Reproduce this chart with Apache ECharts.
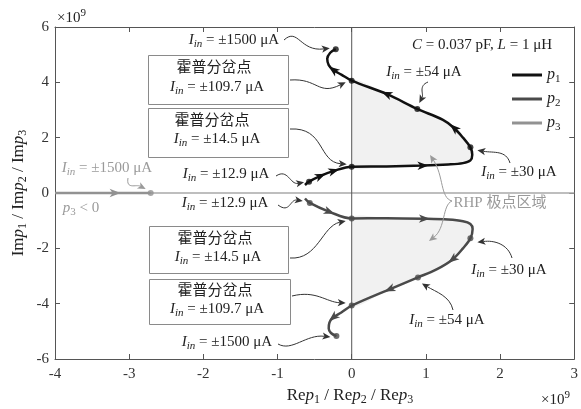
<!DOCTYPE html>
<html>
<head>
<meta charset="utf-8">
<script src="https://cdn.jsdelivr.net/npm/echarts@6/dist/echarts.min.js"></script>
<style>
  html, body { margin: 0; padding: 0; background: #fff; }
  #chart { width: 581px; height: 409px; }
</style>
</head>
<body>
<div id="chart"></div>
<script>
// Pole loci p1, p2, p3 (real / imaginary parts, units of 1e9)
const p1Re = [-0.63, -0.575, -0.42, -0.24, 0, 0.47, 0.96, 1.3, 1.5, 1.6, 1.625, 1.6, 1.5, 1.38, 1.23, 0.884, 0.47, 0, -0.14, -0.25, -0.31, -0.33, -0.29, -0.215];
const p1Im = [0.29, 0.41, 0.62, 0.80, 0.95, 0.96, 0.99, 1.03, 1.08, 1.18, 1.38, 1.65, 2.0, 2.35, 2.64, 3.04, 3.58, 4.06, 4.28, 4.45, 4.62, 4.85, 5.07, 5.2];
const p2Re = [-0.63, -0.565, -0.30, 0, 0.47, 0.98, 1.3, 1.5, 1.6, 1.63, 1.60, 1.50, 1.36, 1.15, 0.893, 0.51, 0, -0.14, -0.25, -0.30, -0.31, -0.28, -0.206];
const p2Im = [-0.20, -0.36, -0.68, -0.92, -0.91, -0.93, -0.96, -1.02, -1.12, -1.3, -1.64, -2.0, -2.40, -2.75, -3.05, -3.48, -4.07, -4.32, -4.5, -4.68, -4.9, -5.06, -5.17];
const p3Re = [-4.0, -3.19, -2.71];
const p3Im = [0, 0, 0];

// Marked points (indices into the loci): Iin = 12.9, Hopf, 30, 54, Hopf, 1500 uA
const p1Dots = [1, 4, 11, 15, 17, 23];
const p2Dots = [1, 3, 10, 14, 16, 22];
const p3Dots = [2];
// Direction arrows along each locus
const p1Arrows = [2, 3, 6, 13, 16, 19];
const p2Arrows = [2, 5, 12, 15, 18];
const p3Arrows = [1];
// Segment between the two Hopf points bounding the RHP region
const p1Rhp = [4, 17];
const p2Rhp = [3, 16];

const xTicks = [-4, -3, -2, -1, 0, 1, 2, 3];
const yTicks = [-6, -4, -2, 0, 2, 4, 6];

const FONT = "'Liberation Serif', 'Noto Sans CJK SC', serif";
const INK = '#222';
const GREY = '#9a9a9a';
const C1 = '#111111', C2 = '#4a4a4a', C3 = '#929292';

const pairs = (re, im) => re.map((x, i) => [x, im[i]]);
const pick = (re, im, idx) => idx.map(i => [re[i], im[i]]);
const arrowItems = (re, im, idx) => idx.map(i => [re[i], im[i], re[i - 1], im[i - 1], re[i + 1], im[i + 1]]);

function richSet(color, size) {
  size = size || 15;
  const sub = Math.round(size * 0.7);
  return {
    i: { fontFamily: FONT, fontSize: size, fontStyle: 'italic', lineHeight: 20, color: color, fill: color },
    s: { fontFamily: FONT, fontSize: sub, fontStyle: 'italic', verticalAlign: 'bottom', lineHeight: 4, color: color, fill: color },
    d: { fontFamily: FONT, fontSize: sub, verticalAlign: 'bottom', lineHeight: 4, color: color, fill: color },
    t: { fontFamily: FONT, fontSize: size, lineHeight: 20, color: color, fill: color },
    sup: { fontFamily: FONT, fontSize: sub, verticalAlign: 'top', lineHeight: 5, color: color, fill: color }
  };
}
const iin = v => '{i|I}{s|in}{t| = ±' + v + ' μA}';

// Arrowhead drawn along a locus, oriented by neighbouring samples
function arrowRenderer(color) {
  return function (params, api) {
    const p = api.coord([api.value(0), api.value(1)]);
    const a = api.coord([api.value(2), api.value(3)]);
    const b = api.coord([api.value(4), api.value(5)]);
    let dx = b[0] - a[0], dy = b[1] - a[1];
    const L = Math.hypot(dx, dy) || 1;
    dx /= L; dy /= L;
    const nx = -dy, ny = dx;
    const len = 5.5, hw = 4.2, notch = 3;
    return {
      type: 'polygon',
      shape: { points: [
        [p[0] + dx * len, p[1] + dy * len],
        [p[0] - dx * len + nx * hw, p[1] - dy * len + ny * hw],
        [p[0] - dx * (len - notch), p[1] - dy * (len - notch)],
        [p[0] - dx * len - nx * hw, p[1] - dy * len - ny * hw]
      ] },
      style: { fill: color }
    };
  };
}

// Shaded right-half-plane region enclosed by each locus and the imaginary axis
function rhpRenderer(params, api) {
  const axisX = api.coord([0, 0])[0];
  const build = (re, im, span) => {
    const pts = [];
    for (let i = span[0]; i <= span[1]; i++) pts.push(api.coord([re[i], im[i]]));
    return {
      type: 'polygon',
      shape: { points: pts, smooth: 0.25, smoothConstraint: [[axisX, -10000], [10000, 10000]] },
      style: { fill: '#f1f1f1' }
    };
  };
  return { type: 'group', children: [build(p1Re, p1Im, p1Rhp), build(p2Re, p2Im, p2Rhp)] };
}

const axisLabel = { fontFamily: FONT, fontSize: 15, color: '#333' };
const frameLine = { show: true, onZero: false, lineStyle: { color: '#555', width: 1 } };
const innerTick = { show: true, inside: true, length: 5, lineStyle: { color: '#555' } };

const chart = echarts.init(document.getElementById('chart'), null, { renderer: 'canvas' });

chart.setOption({
  animation: false,
  grid: { left: 55, right: 6, top: 27, bottom: 50, containLabel: false },
  xAxis: [
    { type: 'value', min: xTicks[0], max: xTicks[xTicks.length - 1], interval: 1, position: 'bottom',
      axisLine: frameLine, axisTick: innerTick, splitLine: { show: false },
      axisLabel: Object.assign({ margin: 8 }, axisLabel) },
    { type: 'value', min: xTicks[0], max: xTicks[xTicks.length - 1], interval: 1, position: 'top',
      axisLine: frameLine, axisTick: innerTick, splitLine: { show: false }, axisLabel: { show: false } }
  ],
  yAxis: [
    { type: 'value', min: yTicks[0], max: yTicks[yTicks.length - 1], interval: 2, position: 'left',
      axisLine: frameLine, axisTick: innerTick, splitLine: { show: false },
      axisLabel: Object.assign({ margin: 6 }, axisLabel) },
    { type: 'value', min: yTicks[0], max: yTicks[yTicks.length - 1], interval: 2, position: 'right',
      axisLine: frameLine, axisTick: innerTick, splitLine: { show: false }, axisLabel: { show: false } }
  ],
  legend: {
    data: ['p1', 'p2', 'p3'],
    orient: 'vertical', left: 507, top: 62, itemGap: 6,
    icon: 'rect', itemWidth: 30, itemHeight: 3,
    formatter: name => '{i|p}{d|' + name.slice(1) + '}',
    textStyle: { rich: richSet(INK, 16), padding: [0, 0, 0, 0] },
    selectedMode: false
  },
  series: [
    { type: 'custom', name: 'rhp', renderItem: rhpRenderer, data: [[0, 0]], silent: true, z: 1, clip: true },
    { type: 'line', name: 'axis-re', data: [[xTicks[0], 0], [xTicks[xTicks.length - 1], 0]], symbol: 'none',
      lineStyle: { color: '#a8a8a8', width: 1.5 }, silent: true, z: 2 },
    { type: 'line', name: 'axis-im', data: [[0, yTicks[0]], [0, yTicks[yTicks.length - 1]]], symbol: 'none',
      lineStyle: { color: '#555', width: 1 }, silent: true, z: 2 },
    { type: 'line', name: 'p3', color: C3, data: pairs(p3Re, p3Im), symbol: 'none',
      lineStyle: { color: C3, width: 2.5 }, z: 3 },
    { type: 'line', name: 'p2', color: C2, data: pairs(p2Re, p2Im), symbol: 'none', smooth: 0.35,
      lineStyle: { color: C2, width: 2.5 }, z: 4 },
    { type: 'line', name: 'p1', color: C1, data: pairs(p1Re, p1Im), symbol: 'none', smooth: 0.35,
      lineStyle: { color: C1, width: 2.5 }, z: 5 },
    { type: 'custom', name: 'p3-dir', renderItem: arrowRenderer(C3), data: arrowItems(p3Re, p3Im, p3Arrows), encode: { x: 0, y: 1 }, z: 6 },
    { type: 'custom', name: 'p2-dir', renderItem: arrowRenderer(C2), data: arrowItems(p2Re, p2Im, p2Arrows), encode: { x: 0, y: 1 }, z: 6 },
    { type: 'custom', name: 'p1-dir', renderItem: arrowRenderer(C1), data: arrowItems(p1Re, p1Im, p1Arrows), encode: { x: 0, y: 1 }, z: 6 },
    { type: 'scatter', name: 'p3-pts', data: pick(p3Re, p3Im, p3Dots), symbolSize: 6, itemStyle: { color: C3 }, z: 7 },
    { type: 'scatter', name: 'p2-pts', data: pick(p2Re, p2Im, p2Dots), symbolSize: 6, itemStyle: { color: C2 }, z: 7 },
    { type: 'scatter', name: 'p1-pts', data: pick(p1Re, p1Im, p1Dots), symbolSize: 6, itemStyle: { color: C1 }, z: 7 }
  ]
});

// ---- annotations -------------------------------------------------------
const loci = { p1: [p1Re, p1Im], p2: [p2Re, p2Im], p3: [p3Re, p3Im] };
const toPx = (x, y) => chart.convertToPixel({ gridIndex: 0 }, [x, y]);

// Leader curves: start, two control points, and the end offset from the marked point
const leaders = [
  { to: ['p1', 23], gap: [-6, -1], from: [284, 40], c1: [298, 27], c2: [300, 52] },
  { to: ['p1', 17], gap: [-6, 1.5], from: [290, 80], c1: [318, 78], c2: [318, 96] },
  { to: ['p1', 4], gap: [-5, -2.5], from: [290, 129], c1: [325, 127], c2: [318, 162] },
  { to: ['p1', 1], gap: [-5, 0.5], from: [276, 176], c1: [288, 168], c2: [290, 185] },
  { to: ['p1', 15], gap: [2, -6], from: [428, 82], c1: [418, 86], c2: [424, 94] },
  { to: ['p1', 11], gap: [7, 3], from: [510, 163], c1: [506, 150], c2: [494, 153] },
  { to: ['p3', 2], gap: [-5, -4], from: [128, 178], c1: [126, 190], c2: [136, 184], grey: true },
  { to: ['p2', 1], gap: [-7, -2], from: [278, 205], c1: [290, 214], c2: [290, 199] },
  { to: ['p2', 3], gap: [-6, 2.5], from: [290, 258], c1: [318, 260], c2: [322, 226] },
  { to: ['p2', 16], gap: [-6, -2.5], from: [292, 296], c1: [316, 290], c2: [326, 302] },
  { to: ['p2', 22], gap: [-6, 1], from: [278, 344], c1: [292, 352], c2: [306, 334] },
  { to: ['p2', 10], gap: [7, 4], from: [512, 258], c1: [508, 244], c2: [494, 240] },
  { to: ['p2', 14], gap: [4, 6], from: [453, 310], c1: [450, 296], c2: [436, 292] }
];
// Pointers from the "RHP" note into the shaded regions
const rhpPointers = [
  { from: [452, 201], c1: [440, 198], c2: [444, 176], end: [430, 155] },
  { from: [452, 201], c1: [442, 205], c2: [446, 228], end: [429, 241] }
];

const labels = [
  { text: iin('1500'), at: [234, 40] },
  { text: iin('12.9'), at: [226, 174] },
  { text: iin('54'), at: [424, 72] },
  { text: iin('30'), at: [519, 172] },
  { text: '{i|C}{t| = 0.037 pF, }{i|L}{t| = 1 μH}', at: [482, 45] },
  { text: iin('1500'), at: [107, 168], grey: true },
  { text: '{i|p}{d|3}{t| < 0}', at: [81, 208], grey: true },
  { text: iin('12.9'), at: [225, 203] },
  { text: iin('1500'), at: [227, 342] },
  { text: iin('30'), at: [509, 270] },
  { text: iin('54'), at: [447, 320] },
  { text: '{t|RHP 极点区域}', at: [500, 203], grey: true }
];

const boxes = [
  { rect: [148, 55, 140, 49], texts: ['{t|霍普分岔点}', iin('109.7')], at: [[214, 68], [217, 87]] },
  { rect: [148, 108, 140, 49], texts: ['{t|霍普分岔点}', iin('14.5')], at: [[212, 121], [217, 139]] },
  { rect: [149, 226, 139, 47], texts: ['{t|霍普分岔点}', iin('14.5')], at: [[215, 239], [218, 257]] },
  { rect: [149, 279, 141, 45], texts: ['{t|霍普分岔点}', iin('109.7')], at: [[215, 291], [217, 309]] }
];

function curveWithHead(from, c1, c2, end, color) {
  let dx = end[0] - c2[0], dy = end[1] - c2[1];
  const L = Math.hypot(dx, dy) || 1;
  dx /= L; dy /= L;
  const nx = -dy, ny = dx;
  const len = 8, hw = 3.6, notch = 2;
  const base = [end[0] - dx * (len - notch), end[1] - dy * (len - notch)];
  return [
    { type: 'bezierCurve', z: 20, silent: true,
      shape: { x1: from[0], y1: from[1], cpx1: c1[0], cpy1: c1[1], cpx2: c2[0], cpy2: c2[1], x2: base[0], y2: base[1] },
      style: { stroke: color, lineWidth: 1, fill: null } },
    { type: 'polygon', z: 21, silent: true,
      shape: { points: [end,
        [end[0] - dx * len + nx * hw, end[1] - dy * len + ny * hw],
        base,
        [end[0] - dx * len - nx * hw, end[1] - dy * len - ny * hw]] },
      style: { fill: color } }
  ];
}

function textEl(text, at, color, extra) {
  return Object.assign({
    type: 'text', x: at[0], y: at[1], z: 30, silent: true,
    style: { text: text, rich: richSet(color), align: 'center', verticalAlign: 'middle' }
  }, extra || {});
}

const els = [];
leaders.forEach(a => {
  const lc = loci[a.to[0]];
  const t = toPx(lc[0][a.to[1]], lc[1][a.to[1]]);
  const end = [t[0] + a.gap[0], t[1] + a.gap[1]];
  els.push(...curveWithHead(a.from, a.c1, a.c2, end, a.grey ? GREY : '#333'));
});
rhpPointers.forEach(a => els.push(...curveWithHead(a.from, a.c1, a.c2, a.end, GREY)));
labels.forEach(l => els.push(textEl(l.text, l.at, l.grey ? GREY : INK)));
boxes.forEach(b => {
  els.push({ type: 'rect', z: 25, silent: true,
    shape: { x: b.rect[0] + 0.5, y: b.rect[1] + 0.5, width: b.rect[2], height: b.rect[3] },
    style: { fill: '#fff', stroke: '#8a8a8a', lineWidth: 1 } });
  b.texts.forEach((t, k) => els.push(textEl(t, b.at[k], INK)));
});

// Axis titles and exponent markers
const axisRich = richSet(INK, 17);
els.push({ type: 'text', x: 350, y: 396, z: 30, silent: true,
  style: { text: '{t|Re}{i|p}{d|1}{t| / Re}{i|p}{d|2}{t| / Re}{i|p}{d|3}', rich: axisRich, align: 'center', verticalAlign: 'middle' } });
els.push({ type: 'text', x: 19, y: 193, rotation: Math.PI / 2, z: 30, silent: true,
  style: { text: '{t|Im}{i|p}{d|1}{t| / Im}{i|p}{d|2}{t| / Im}{i|p}{d|3}', rich: axisRich, align: 'center', verticalAlign: 'middle' } });
els.push({ type: 'text', x: 57, y: 18, z: 30, silent: true,
  style: { text: '{t|×10}{sup|9}', rich: richSet(INK), align: 'left', verticalAlign: 'middle' } });
els.push({ type: 'text', x: 541, y: 400, z: 30, silent: true,
  style: { text: '{t|×10}{sup|9}', rich: richSet(INK), align: 'left', verticalAlign: 'middle' } });

chart.setOption({ graphic: { elements: els } });
</script>
</body>
</html>
